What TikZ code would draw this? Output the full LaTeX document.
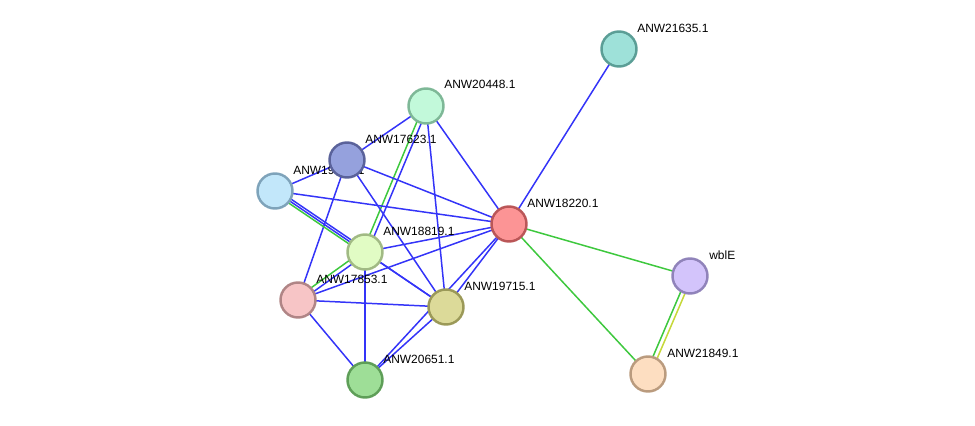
\documentclass[tikz,border=0pt]{standalone}
\usepackage{fontspec}
\setmainfont{Liberation Sans}
\usepackage{xcolor}
\definecolor{EdgeBlue}{HTML}{3434F8}
\definecolor{EdgeGreen}{HTML}{3EC83E}
\definecolor{EdgeYellow}{HTML}{C6D83A}
\definecolor{FillA}{HTML}{9EE1D9}\definecolor{LineA}{HTML}{5B9E96}
\definecolor{FillB}{HTML}{C2F9DA}\definecolor{LineB}{HTML}{7EB897}
\definecolor{FillC}{HTML}{95A1DD}\definecolor{LineC}{HTML}{5A629A}
\definecolor{FillD}{HTML}{C2E7FA}\definecolor{LineD}{HTML}{7EA3BA}
\definecolor{FillE}{HTML}{FC9495}\definecolor{LineE}{HTML}{BA5657}
\definecolor{FillF}{HTML}{E1FCC4}\definecolor{LineF}{HTML}{A1BA84}
\definecolor{FillG}{HTML}{D3C4FB}\definecolor{LineG}{HTML}{9083BA}
\definecolor{FillH}{HTML}{F7C5C6}\definecolor{LineH}{HTML}{B08586}
\definecolor{FillI}{HTML}{DCDA99}\definecolor{LineI}{HTML}{9B9958}
\definecolor{FillJ}{HTML}{9EDE97}\definecolor{LineJ}{HTML}{5E9E58}
\definecolor{FillK}{HTML}{FDDEC1}\definecolor{LineK}{HTML}{BA9B7E}
\usepackage{tikz}
\usetikzlibrary{calc}
\pgfdeclarelayer{background}
\pgfsetlayers{background,main}

% two lines side by side between two proteins
\newcommand{\twin}[4]{%
  \draw[edge,#1] ($(#3.center)!1.3pt!-90:(#4.center)$) -- ($(#4.center)!1.3pt!90:(#3.center)$);
  \draw[edge,#2] ($(#3.center)!1.3pt!90:(#4.center)$) -- ($(#4.center)!1.3pt!-90:(#3.center)$);}

\begin{document}
\begin{tikzpicture}[
  x=0.02cm,y=-0.02cm,
  prot/.style={circle,line width=1.4pt,minimum size=0.7cm,inner sep=0pt},
  lab/.style={anchor=base west,inner sep=0pt,font=\fontsize{6.8}{8}\selectfont},
  edge/.style={line width=0.85pt,EdgeBlue}
]
  \useasboundingbox (0,0) rectangle (975,426);

  \node[prot,fill=FillA,draw=LineA] (p21635) at (619,49) {};
  \node[lab] (l21635) at (637,32) {ANW21635.1};
  \node[prot,fill=FillB,draw=LineB] (p20448) at (426,106) {};
  \node[lab] (l20448) at (444,89) {ANW20448.1};
  \node[prot,fill=FillD,draw=LineD] (p19629) at (275,191) {};
  \node[lab] (l19629) at (293,174) {ANW19629.1};
  \node[prot,fill=FillC,draw=LineC] (p17623) at (347,160) {};
  \node[lab] (l17623) at (365,143) {ANW17623.1};
  \node[prot,fill=FillE,draw=LineE] (p18220) at (509,224) {};
  \node[lab] (l18220) at (527,207) {ANW18220.1};
  \node[prot,fill=FillF,draw=LineF] (p18819) at (365,252) {};
  \node[lab] (l18819) at (383,235) {ANW18819.1};
  \node[prot,fill=FillG,draw=LineG] (wble) at (690,276) {};
  \node[lab] (lwble) at (709,259) {wblE};
  \node[prot,fill=FillH,draw=LineH] (p17853) at (298,300) {};
  \node[lab] (l17853) at (316,283) {ANW17853.1};
  \node[prot,fill=FillI,draw=LineI] (p19715) at (446,307) {};
  \node[lab] (l19715) at (464,290) {ANW19715.1};
  \node[prot,fill=FillJ,draw=LineJ] (p20651) at (365,380) {};
  \node[lab] (l20651) at (383,363) {ANW20651.1};
  \node[prot,fill=FillK,draw=LineK] (p21849) at (648,374) {};
  \node[lab] (l21849) at (667,357) {ANW21849.1};

  \begin{pgfonlayer}{background}
    \draw[edge] (p21635.center) -- (p18220.center);
    \draw[edge] (p20448.center) -- (p17623.center);
    \twin{EdgeGreen}{EdgeBlue}{p20448}{p18819}
    \draw[edge] (p20448.center) -- (p19715.center);
    \draw[edge] (p20448.center) -- (p18220.center);
    \draw[edge] (p17623.center) -- (p19629.center);
    \draw[edge] (p17623.center) -- (p18220.center);
    \draw[edge] (p17623.center) -- (p17853.center);
    \draw[edge] (p17623.center) -- (p19715.center);
    \draw[edge] (p19629.center) -- (p18220.center);
    \twin{EdgeGreen}{EdgeBlue}{p19629}{p18819}
    \draw[edge] (p19629.center) -- (p19715.center);
    \draw[edge] (p18819.center) -- (p18220.center);
    \twin{EdgeGreen}{EdgeBlue}{p18819}{p17853}
    \draw[edge] (p18819.center) -- (p20651.center);
    \draw[edge] (p18819.center) -- (p19715.center);
    \draw[edge] (p17853.center) -- (p18220.center);
    \draw[edge] (p17853.center) -- (p19715.center);
    \draw[edge] (p17853.center) -- (p20651.center);
    \draw[edge] (p19715.center) -- (p18220.center);
    \draw[edge] (p19715.center) -- (p20651.center);
    \draw[edge] (p20651.center) -- (p18220.center);
    \draw[edge,EdgeGreen] (p18220.center) -- (wble.center);
    \draw[edge,EdgeGreen] (p18220.center) -- (p21849.center);
    \twin{EdgeGreen}{EdgeYellow}{wble}{p21849}
  \end{pgfonlayer}
\end{tikzpicture}
\end{document}
